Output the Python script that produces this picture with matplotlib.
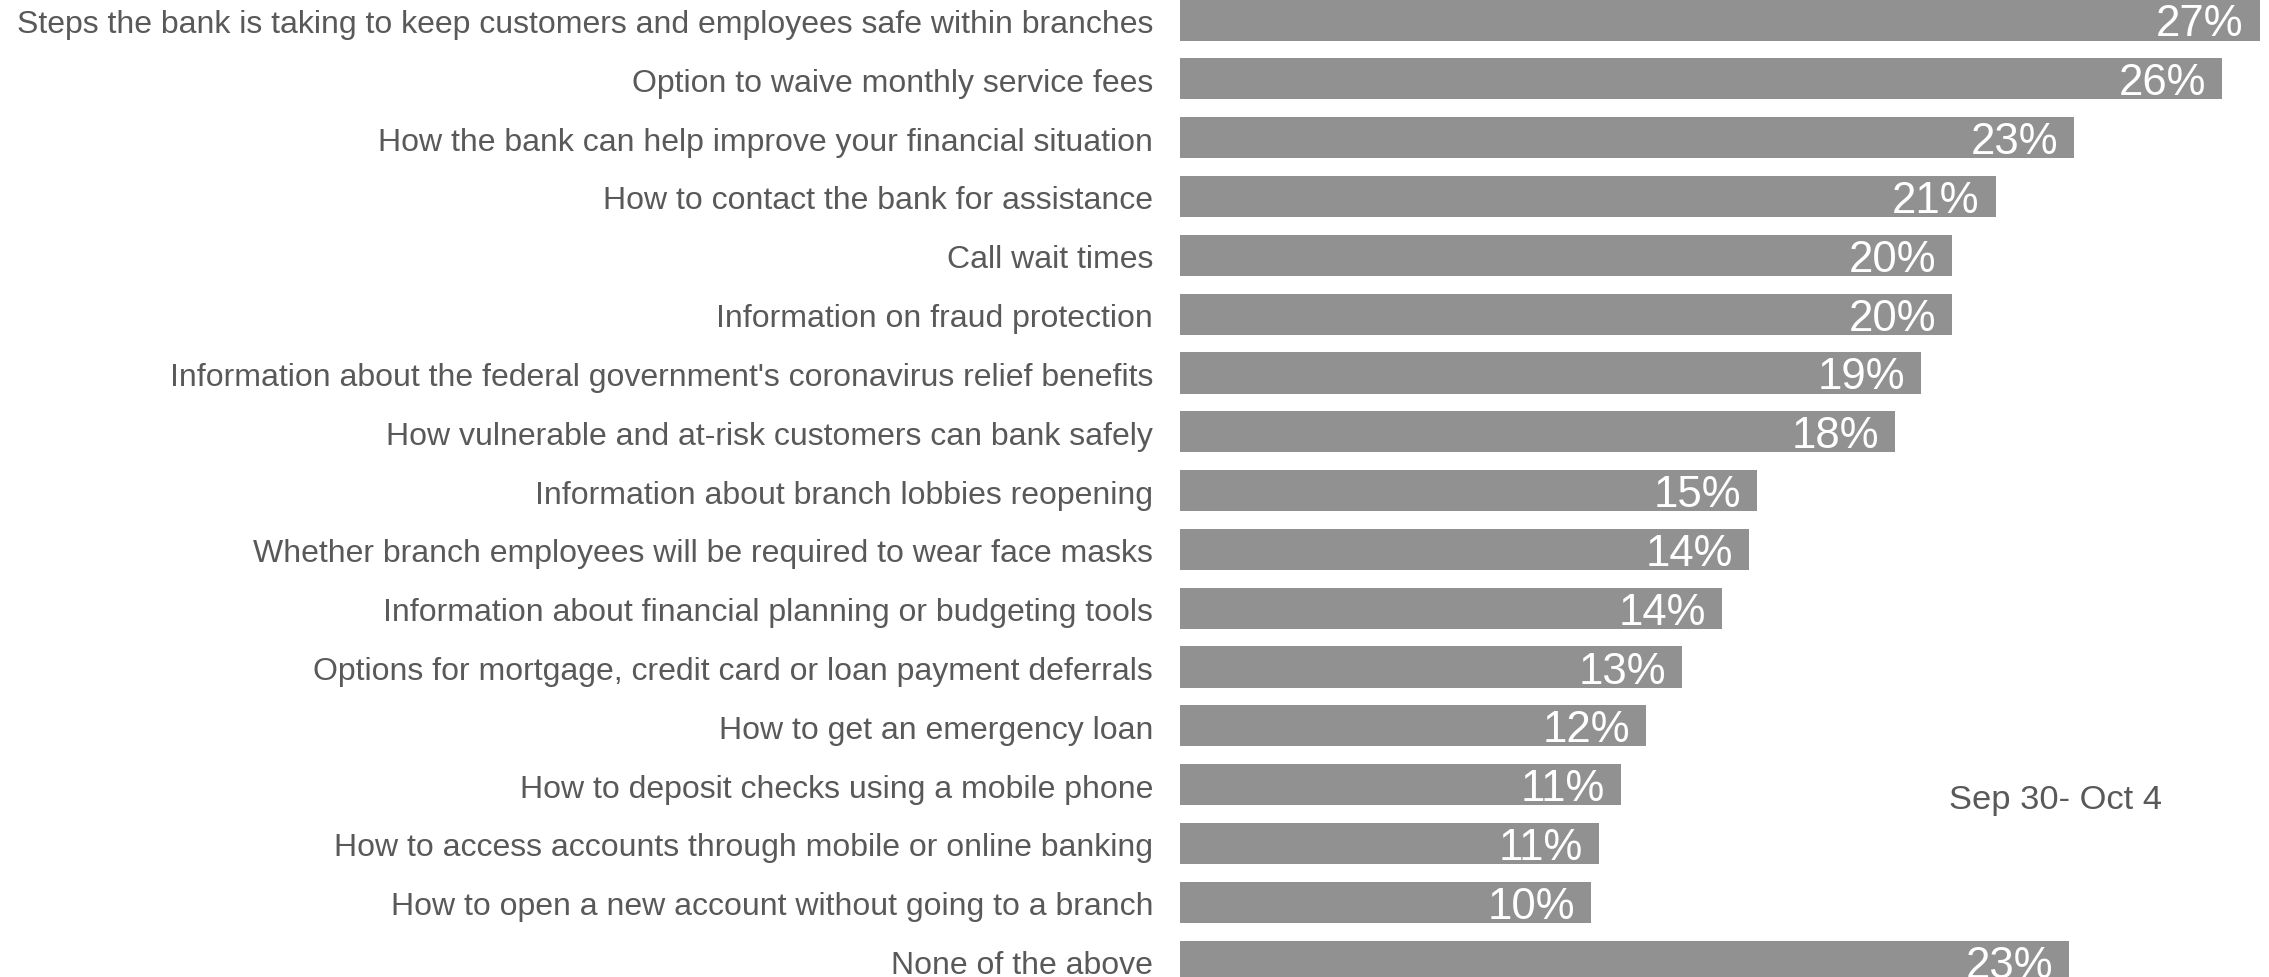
import matplotlib
matplotlib.use("Agg")
import matplotlib.pyplot as plt

categories = [
    "Steps the bank is taking to keep customers and employees safe within branches",
    "Option to waive monthly service fees",
    "How the bank can help improve your financial situation",
    "How to contact the bank for assistance",
    "Call wait times",
    "Information on fraud protection",
    "Information about the federal government's coronavirus relief benefits",
    "How vulnerable and at-risk customers can bank safely",
    "Information about branch lobbies reopening",
    "Whether branch employees will be required to wear face masks",
    "Information about financial planning or budgeting tools",
    "Options for mortgage, credit card or loan payment deferrals",
    "How to get an emergency loan",
    "How to deposit checks using a mobile phone",
    "How to access accounts through mobile or online banking",
    "How to open a new account without going to a branch",
    "None of the above",
]
values = [27.4, 26.45, 22.7, 20.7, 19.6, 19.6, 18.8, 18.15, 14.65, 14.45,
          13.75, 12.74, 11.83, 11.19, 10.63, 10.43, 22.56]
series_name = "Sep 30- Oct 4"

W, H = 2269, 978
fig = plt.figure(figsize=(W / 100, H / 100), dpi=100)
left_px = 1180
ax = fig.add_axes([left_px / W, 0, (W - left_px) / W, 1])

font = ["Liberation Sans", "DejaVu Sans"]
bar_color = "#919191"
text_color = "#595959"

ypos = list(range(len(categories)))
ax.barh(ypos, values, height=0.7, color=bar_color, edgecolor="none")

ax.set_xlim(0, (W - left_px) / 39.4)
ax.set_ylim(16.27, -0.357)

for y, v in zip(ypos, values):
    ax.annotate(f"{round(v):d}%", xy=(v, y), xytext=(-16, -4),
                textcoords="offset pixels", ha="right", va="center",
                color="white", fontsize=31.5, family=font)

for y, c in zip(ypos, categories):
    ax.annotate(c, xy=(0, y), xytext=(-27, -4), textcoords="offset pixels",
                ha="right", va="center", color=text_color, fontsize=23.0,
                family=font, annotation_clip=False)

ax.text(0.804, 0.181, series_name, transform=ax.transAxes, ha="center",
        va="center", color=text_color, fontsize=24.8, family=font)

ax.axis("off")
fig.savefig("out.png", dpi=100)
